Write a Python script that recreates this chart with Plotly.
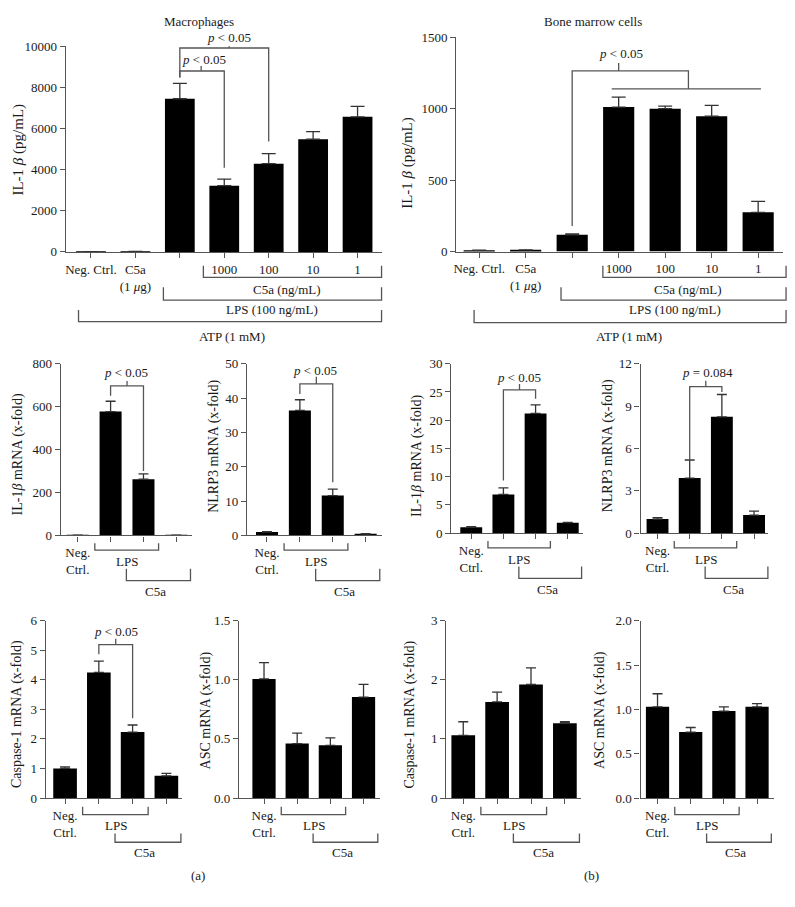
import plotly.graph_objects as go

W, H = 795, 907
FONT = "Liberation Serif, Times New Roman, serif"
AX = "#555555"
TXT = "#1a1a1a"

# ---------------- data ----------------
top_ticks = ["Neg. Ctrl.", "C5a<br>(1 <i>μ</i>g)", "", "1000", "100", "10", "1"]
mac_il1b = [10, 20, 7450, 3220, 4290, 5480, 6570]
mac_il1b_err = [0, 0, 750, 320, 490, 370, 510]
bm_il1b = [10, 12, 117, 1011, 1000, 947, 275]
bm_il1b_err = [0, 0, 7, 69, 18, 76, 76]

mrna_ticks = ["Neg.<br>Ctrl.", "", "", ""]
mac_il1b_mrna = [1, 577, 262, 1]
mac_il1b_mrna_err = [0, 48, 25, 0]
mac_nlrp3 = [1.0, 36.4, 11.6, 0.4]
mac_nlrp3_err = [0.1, 3.1, 1.9, 0.1]
bm_il1b_mrna = [1.04, 6.85, 21.2, 1.86]
bm_il1b_mrna_err = [0.12, 1.15, 1.5, 0.05]
bm_nlrp3 = [1.0, 3.9, 8.24, 1.28]
bm_nlrp3_err = [0.1, 1.28, 1.58, 0.28]
mac_casp1 = [1.0, 4.25, 2.23, 0.75]
mac_casp1_err = [0.05, 0.38, 0.24, 0.08]
mac_asc = [1.007, 0.46, 0.446, 0.854]
mac_asc_err = [0.138, 0.089, 0.062, 0.108]
bm_casp1 = [1.06, 1.625, 1.92, 1.265]
bm_casp1_err = [0.23, 0.165, 0.28, 0.025]
bm_asc = [1.028, 0.743, 0.98, 1.028]
bm_asc_err = [0.148, 0.052, 0.048, 0.037]

# ---------------- panel geometry (pixels) ----------------
panels = [
    dict(v=mac_il1b, e=mac_il1b_err, t=top_ticks, L=63, R=380, c0=88.3, s=44.6, y0=249, yt=40,
         ymax=10000, dt=2000, fmt="d", bw=0.67, cap=7, title="IL-1 <i>β</i> (pg/mL)", tx=16, ty=145, ts=15),
    dict(v=bm_il1b, e=bm_il1b_err, t=top_ticks, L=455, R=783, c0=478, s=46.67, y0=248.7, yt=30.7,
         ymax=1500, dt=500, fmt="d", bw=0.67, cap=7, title="IL-1 <i>β</i> (pg/mL)", tx=406, ty=158, ts=15),
    dict(v=mac_il1b_mrna, e=mac_il1b_mrna_err, t=mrna_ticks, L=58, R=190, c0=75, s=33, y0=537.3, yt=362.7,
         ymax=800, dt=200, fmt="d", bw=0.67, cap=5, title="IL-1<i>β</i> mRNA (x-fold)", tx=16, ty=455, ts=14),
    dict(v=mac_nlrp3, e=mac_nlrp3_err, t=mrna_ticks, L=245, R=380, c0=265, s=33, y0=537.3, yt=362.7,
         ymax=50, dt=10, fmt="d", bw=0.67, cap=5, title="NLRP3 mRNA (x-fold)", tx=211, ty=447, ts=14),
    dict(v=bm_il1b_mrna, e=bm_il1b_mrna_err, t=mrna_ticks, L=450, R=582, c0=470, s=32.3, y0=535, yt=362.7,
         ymax=30, dt=5, fmt="d", bw=0.68, cap=5, title="IL-1<i>β</i> mRNA (x-fold)", tx=416, ty=456, ts=14),
    dict(v=bm_nlrp3, e=bm_nlrp3_err, t=mrna_ticks, L=640, R=768, c0=657, s=32.3, y0=535, yt=362.7,
         ymax=12, dt=3, fmt="d", bw=0.68, cap=5, title="NLRP3 mRNA (x-fold)", tx=607, ty=446, ts=14),
    dict(v=mac_casp1, e=mac_casp1_err, t=mrna_ticks, L=43, R=180, c0=62.3, s=33.9, y0=804.3, yt=624,
         ymax=6, dt=1, fmt="d", bw=0.7, cap=5, title="Caspase-1 mRNA (x-fold)", tx=14, ty=719, ts=14),
    dict(v=mac_asc, e=mac_asc_err, t=mrna_ticks, L=237, R=378, c0=262, s=33.3, y0=804.3, yt=624,
         ymax=1.5, dt=0.5, fmt=".1f", bw=0.7, cap=5, title="ASC mRNA (x-fold)", tx=204, ty=715, ts=14),
    dict(v=bm_casp1, e=bm_casp1_err, t=mrna_ticks, L=445, R=580, c0=462, s=34, y0=804.3, yt=624,
         ymax=3, dt=1, fmt="d", bw=0.7, cap=5, title="Caspase-1 mRNA (x-fold)", tx=409, ty=719, ts=14),
    dict(v=bm_asc, e=bm_asc_err, t=mrna_ticks, L=640, R=774, c0=657, s=33.3, y0=804.3, yt=624,
         ymax=2, dt=0.5, fmt=".1f", bw=0.7, cap=5, title="ASC mRNA (x-fold)", tx=599, ty=715, ts=14),
]

def px(x):
    return x / W

def py(y):
    return 1 - y / H

def val_to_py(p, v):
    # pixel row of a data value in panel p
    return p["y0"] - v / p["ymax"] * (p["y0"] - p["yt"])

fig = go.Figure()
layout = dict(
    width=W, height=H, margin=dict(l=0, r=0, t=0, b=0),
    paper_bgcolor="white", plot_bgcolor="white", showlegend=False,
    font=dict(family=FONT, size=13, color=TXT),
)
shapes = []
annotations = []

def ann(x, y, text, size=13, angle=0):
    annotations.append(dict(
        x=px(x), y=py(y), xref="paper", yref="paper",
        text=text, showarrow=False, textangle=angle,
        xanchor="center", yanchor="middle",
        font=dict(family=FONT, size=size, color=TXT)))

for i, p in enumerate(panels, start=1):
    xa, ya = f"x{i}", f"y{i}"
    n = len(p["v"])
    cats = list(range(n))
    fig.add_trace(go.Bar(
        x=cats, y=p["v"], xaxis=xa, yaxis=ya, width=p["bw"],
        marker=dict(color="black", line=dict(width=0)),
        error_y=dict(type="data", array=p["e"], arrayminus=[0] * n, symmetric=False,
                     color="#333333", thickness=1.3, width=p["cap"]),
    ))
    sfx = "" if i == 1 else str(i)
    layout["xaxis" + sfx] = dict(
        domain=[px(p["L"]), px(p["R"])],
        range=[(p["L"] - p["c0"]) / p["s"], (p["R"] - p["c0"]) / p["s"]],
        anchor=ya, showline=True, linecolor=AX, linewidth=1.3,
        ticks="outside", ticklen=5, tickwidth=1.3, tickcolor=AX,
        tickvals=cats, ticktext=p["t"], showgrid=False, zeroline=False,
        tickfont=dict(family=FONT, size=13, color=TXT), fixedrange=True)
    layout["yaxis" + sfx] = dict(
        domain=[py(p["y0"]), py(p["yt"])], range=[0, p["ymax"]],
        anchor=xa, showline=True, linecolor=AX, linewidth=1.3,
        ticks="outside", ticklen=5, tickwidth=1.3, tickcolor=AX,
        tick0=0, dtick=p["dt"], tickformat=p["fmt"], showgrid=False, zeroline=False,
        tickfont=dict(family=FONT, size=13, color=TXT), fixedrange=True)
    ann(p["tx"], p["ty"], p["title"], size=p["ts"], angle=-90)

    def cx(c, p=p):
        return p["c0"] + c * p["s"]
    if i >= 3:
        bottom = i >= 7
        y0 = p["y0"]
        lps_line, lps_end, lps_txt = (17, 9, 28) if bottom else (15, 8, 27)
        c5_line, c5_end, c5_txt = (45, 36, 55) if bottom else (46, 34, 57)
        for (a, b, yl, ye) in [(0.52, 2.46, lps_line, lps_end), (1.48, 3.43, c5_line, c5_end)]:
            shapes.append(dict(type="path", xref="paper", yref="paper",
                               path=f"M {px(cx(a))},{py(y0 + ye)} L {px(cx(a))},{py(y0 + yl)} "
                                    f"L {px(cx(b))},{py(y0 + yl)} L {px(cx(b))},{py(y0 + ye)}",
                               line=dict(color=AX, width=1.3)))
        ann(cx(1.5), y0 + lps_txt, "LPS")
        ann(cx(2.36), y0 + c5_txt, "C5a")

# top-row brackets beneath the axis (category units, pixel rows)
top_brackets = {
    1: [(2.53, 6.54, 275, 263), (1.63, 6.54, 298, 285), (-0.28, 6.54, 320, 308)],
    2: [(2.66, 6.6, 275, 263), (1.76, 6.6, 298, 285), (-0.11, 6.6, 321, 308)],
}
top_labels = {
    1: [(285, 287, "C5a (ng/mL)"), (270, 308, "LPS (100 ng/mL)"), (230, 335, "ATP (1 mM)")],
    2: [(688, 287, "C5a (ng/mL)"), (675, 308, "LPS (100 ng/mL)"), (628, 335, "ATP (1 mM)")],
}
for i in (1, 2):
    p = panels[i - 1]
    for (a, b, yl, ye) in top_brackets[i]:
        xa_, xb_ = p["c0"] + a * p["s"], p["c0"] + b * p["s"]
        shapes.append(dict(type="path", xref="paper", yref="paper",
                           path=f"M {px(xa_)},{py(ye)} L {px(xa_)},{py(yl)} L {px(xb_)},{py(yl)} L {px(xb_)},{py(ye)}",
                           line=dict(color=AX, width=1.3)))
    for (x, y, t) in top_labels[i]:
        ann(x, y, t)

# significance brackets (data units)
sig = [
    (1, [[(2, 8480), (2, 9920), (4, 9920), (4, 5370)]], (3.11, 9920, 10160), (3.1, 10445, "<i>p</i> &lt; 0.05")),
    (1, [[(2, 8480), (2, 8800), (3, 8800), (3, 4090)]], (2.48, 8800, 9040), (2.55, 9360, "<i>p</i> &lt; 0.05")),
    (2, [[(2, 179), (2, 1264), (4.5, 1264), (4.5, 1138)], [(2.85, 1138), (6.06, 1138)]],
     (3.0, 1264, 1320), (3.04, 1383, "<i>p</i> &lt; 0.05")),
    (3, [[(1, 651), (1, 697), (2, 697), (2, 300)]], (1.5, 697, 719), (1.46, 758, "<i>p</i> &lt; 0.05")),
    (4, [[(1, 41.2), (1, 44.1), (2, 44.1), (2, 15.5)]], (1.5, 44.1, 46.2), (1.46, 47.9, "<i>p</i> &lt; 0.05")),
    (5, [[(1, 9.3), (1, 25.35), (2, 25.35), (2, 23.8)]], (1.5, 25.35, 26.4), (1.49, 27.6, "<i>p</i> &lt; 0.05")),
    (6, [[(1, 5.22), (1, 10.37), (2, 10.37), (2, 10.0)]], (1.5, 10.37, 10.79), (1.54, 11.37, "<i>p</i> = 0.084")),
    (7, [[(1, 4.86), (1, 5.19), (2, 5.19), (2, 2.7)]], (1.5, 5.19, 5.39), (1.5, 5.65, "<i>p</i> &lt; 0.05")),
]
for (i, segs, tick, lab) in sig:
    p = panels[i - 1]
    path = ""
    for seg in segs:
        path += "M " + " L ".join(f"{x},{y}" for x, y in seg) + " "
    path += f"M {tick[0]},{tick[1]} L {tick[0]},{tick[2]}"
    shapes.append(dict(type="path", xref=f"x{i}", yref=f"y{i}", path=path,
                       line=dict(color=AX, width=1.3)))
    annotations.append(dict(x=lab[0], y=py(val_to_py(p, lab[1])), xref=f"x{i}", yref="paper",
                            text=lab[2], showarrow=False, xanchor="center", yanchor="middle",
                            font=dict(family=FONT, size=13, color=TXT)))

# titles and panel letters
ann(197, 15, "Macrophages")
ann(592, 15, "Bone marrow cells")
ann(196, 883, "(a)")
ann(591, 883, "(b)")

layout["shapes"] = shapes
layout["annotations"] = annotations
fig.update_layout(**layout)
fig.write_html("out.html", config={"displayModeBar": False},
               post_script="document.body.style.margin='0px';document.body.style.padding='0px';")
